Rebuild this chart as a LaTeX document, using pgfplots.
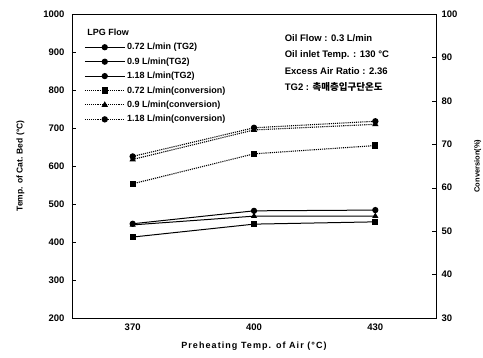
\documentclass[border=0pt]{standalone}
\usepackage{fontspec}
\setmainfont{Liberation Sans}
\newfontfamily\kr{Noto Sans CJK KR}
\usepackage{pgfplots}
\pgfplotsset{compat=1.18}
\begin{document}
\begin{tikzpicture}
\pgfplotsset{
  every axis/.append style={
    scale only axis, width=364pt, height=304pt,
    xmin=355, xmax=445,
    /pgf/number format/assume math mode=true,
    /pgf/number format/1000 sep={},
    tick label style={font=\fontsize{9.5}{10}\selectfont\bfseries},
    major tick length=4pt,
    tick style={black, thin},
  },
  tg/.style={black, line width=1pt, mark size=2.6pt},
  cv/.style={black, line width=1.1pt, densely dotted, mark size=2.6pt, mark options={solid}},
}
\begin{axis}[name=main,
  ymin=200, ymax=1000, ytick distance=100, ytick pos=left,
  xtick={370,400,430}, x tick style={draw=none},
  xticklabel style={yshift=-2pt},
  yticklabel style={xshift=-4pt},
  ylabel={Temp. of Cat. Bed (\textdegree C)},
  ylabel style={font=\fontsize{8.5}{10}\selectfont\bfseries, yshift=12pt},
  xlabel={\addfontfeature{LetterSpace=12}Preheating Temp. of Air (\textdegree C)},
  xlabel style={font=\fontsize{9}{10}\selectfont\bfseries, yshift=-5pt},
]
\addplot[tg, mark=square*] coordinates {(370,413) (400,447) (430,453)};
\addplot[tg, mark=triangle*] coordinates {(370,445) (400,468) (430,468)};
\addplot[tg, mark=*] coordinates {(370,448) (400,482) (430,484)};
\node[anchor=north west, align=left, font=\fontsize{9.5}{16.5}\selectfont\bfseries]
  at (rel axis cs:0.575,0.945)
  {Oil Flow : 0.3 L/min\\
   Oil inlet Temp. : 130 \textdegree C\\
   Excess Air Ratio : 2.36\\
   TG2 : {\kr\bfseries 촉매층입구단온도}};
\end{axis}
\begin{axis}[
  ymin=30, ymax=100, ytick distance=10,
  axis y line*=right, axis x line=none,
  yticklabel style={xshift=2pt},
  ylabel={Conversion(\%)},
  ylabel style={font=\fontsize{7.5}{9}\selectfont\bfseries, yshift=-10pt},
  legend style={at={(0.025,0.965)}, anchor=north west, draw=none, fill=none,
    font=\fontsize{9}{10}\selectfont\bfseries, row sep=2.4pt},
  legend cell align=left,
  legend image code/.code={
    \draw[mark repeat=2, mark phase=2, #1] plot coordinates {(0cm,0cm) (0.7cm,0cm) (1.4cm,0cm)};
  },
]
\addlegendimage{empty legend}
\addlegendentry{\hspace{-1.4cm}LPG Flow}
\addlegendimage{tg, mark=*}
\addlegendentry{0.72 L/min (TG2)}
\addlegendimage{tg, mark=*}
\addlegendentry{0.9 L/min(TG2)}
\addlegendimage{tg, mark=*}
\addlegendentry{1.18 L/min(TG2)}
\addplot[cv, mark=square*] coordinates {(370,60.9) (400,67.8) (430,69.7)};
\addlegendentry{0.72 L/min(conversion)}
\addplot[cv, mark=triangle*] coordinates {(370,66.5) (400,73.3) (430,74.6)};
\addlegendentry{0.9 L/min(conversion)}
\addplot[cv, mark=*] coordinates {(370,67.2) (400,73.8) (430,75.3)};
\addlegendentry{1.18 L/min(conversion)}
\end{axis}
\pgfresetboundingbox
\path[use as bounding box] ([xshift=-72pt,yshift=-40pt]main.south west) rectangle ([xshift=47pt,yshift=14pt]main.north east);
\end{tikzpicture}
\end{document}
